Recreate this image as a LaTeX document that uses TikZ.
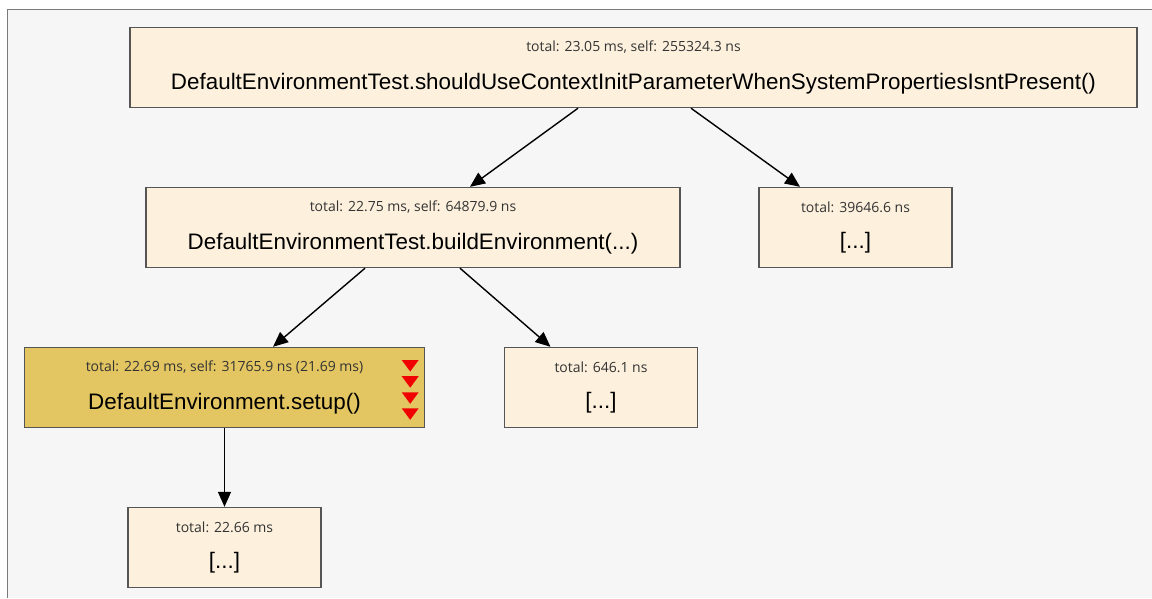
\documentclass[tikz,border=0pt]{standalone}
\usepackage{fontspec}
\setmainfont{Liberation Sans}
\newfontfamily\statfont{Open Sans}
\usetikzlibrary{arrows.meta,positioning}
\definecolor{canvasgray}{HTML}{F6F6F6}
\definecolor{framegray}{HTML}{7A7A7A}
\definecolor{boxfill}{HTML}{FDF1DE}
\definecolor{hotfill}{HTML}{E3C662}
\definecolor{boxline}{HTML}{555555}
\definecolor{stattext}{HTML}{333333}
\definecolor{hotred}{HTML}{F00000}
\newcommand{\callinfo}[2]{{\statfont\fontsize{14}{15}\selectfont\color{stattext}#1}\\[19pt]{\fontsize{22.4}{25}\selectfont #2}}

\begin{document}
\begin{tikzpicture}[x=1pt, y=-1pt, >={Triangle[length=15pt,width=13pt]},
  callbox/.style={draw=boxline, fill=boxfill, line width=1.4pt, minimum height=80pt, align=center, inner sep=0pt},
  hotbox/.style={callbox, fill=hotfill},
  calledge/.style={->, line width=1.4pt, black}]
\useasboundingbox (0,0) rectangle (1152,598);
\fill[canvasgray] (7,9) rectangle (1152,598);
\draw[framegray, line width=1pt] (7,598) -- (7,9) -- (1152,9);
% call tree
\node[callbox, minimum width=1007pt] (root) at (633.5,67.5)
  {\callinfo{total: 23.05 ms, self: 255324.3 ns}{DefaultEnvironmentTest.shouldUseContextInitParameterWhenSystemPropertiesIsntPresent()}};
\node[callbox, minimum width=534pt] (build) at (413,227.5)
  {\callinfo{total: 22.75 ms, self: 64879.9 ns}{DefaultEnvironmentTest.buildEnvironment(...)}};
\node[callbox, minimum width=193pt] (restA) at (855.5,227.5)
  {\callinfo{total: 39646.6 ns}{[...]}};
\node[hotbox, minimum width=400pt] (setup) at (224.5,387.5)
  {\callinfo{total: 22.69 ms, self: 31765.9 ns (21.69 ms)}{DefaultEnvironment.setup()}};
\node[callbox, minimum width=193pt] (restB) at (601,387.5)
  {\callinfo{total: 646.1 ns}{[...]}};
\node[callbox, minimum width=193pt] (restC) at (224.5,547.5)
  {\callinfo{total: 22.66 ms}{[...]}};
% hot markers
\foreach \dy in {27.5,11.3,-4.8,-20.8}
  \fill[hotred] ([xshift=-23.5pt,yshift=\dy pt]setup.east) -- ([xshift=-6.5pt,yshift=\dy pt]setup.east) -- ([xshift=-15pt,yshift=\dy pt-11.5pt]setup.east) -- cycle;
% edges
\draw[calledge] ([xshift=-55.5pt]root.south) -- ([xshift=57pt]build.north);
\draw[calledge] ([xshift=57.5pt]root.south) -- ([xshift=-55.5pt]restA.north);
\draw[calledge] ([xshift=-48pt]build.south) -- ([xshift=48.5pt]setup.north);
\draw[calledge] ([xshift=47pt]build.south) -- ([xshift=-50.5pt]restB.north);
\draw[calledge] (setup.south) -- (restC.north);
\end{tikzpicture}
\end{document}
